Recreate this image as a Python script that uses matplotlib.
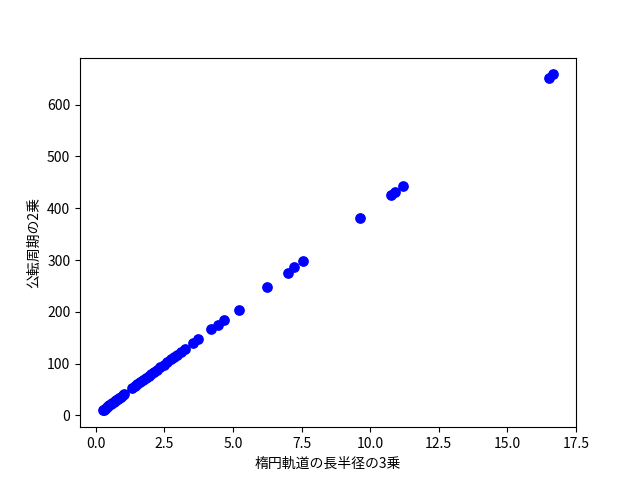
import matplotlib
matplotlib.use("Agg")
import matplotlib.pyplot as plt

plt.rcParams['font.family'] = ['Noto Sans CJK JP', 'DejaVu Sans']

a_cubed = [0.25, 0.29, 0.33, 0.37, 0.41, 0.45, 0.50, 0.55, 0.60, 0.65, 0.70, 0.75,
           0.80, 0.86, 0.92, 0.98, 1.04, 1.34, 1.43, 1.52, 1.62, 1.72, 1.82, 1.93,
           2.03, 2.13, 2.24, 2.35, 2.48, 2.60, 2.75, 2.87, 2.98, 3.12, 3.24, 3.56,
           3.74, 4.22, 4.44, 4.68, 5.23, 6.26, 6.99, 7.24, 7.57, 9.64, 10.76, 10.92,
           11.21, 16.52, 16.68]
t_squared = [9.8, 11.5, 13.0, 14.6, 16.2, 17.8, 19.7, 21.7, 23.7, 25.7, 27.6, 29.6,
             31.6, 34.0, 36.3, 38.7, 41.1, 52.9, 56.5, 60.0, 64.0, 67.9, 71.9, 76.2,
             80.1, 84.1, 88.4, 92.8, 97.9, 102.6, 108.6, 113.3, 117.6, 123.2, 127.9, 140.5,
             147.6, 166.6, 175.3, 184.7, 204.5, 247.2, 276.0, 285.8, 298.9, 380.6, 424.8, 431.1,
             442.6, 652.2, 658.5]

fig, ax = plt.subplots(figsize=(6.4, 4.8), dpi=100)
ax.scatter(a_cubed, t_squared, color='blue', s=45)
ax.set_xlabel('楕円軌道の長半径の3乗')
ax.set_ylabel('公転周期の2乗')
fig.savefig('out.png')
